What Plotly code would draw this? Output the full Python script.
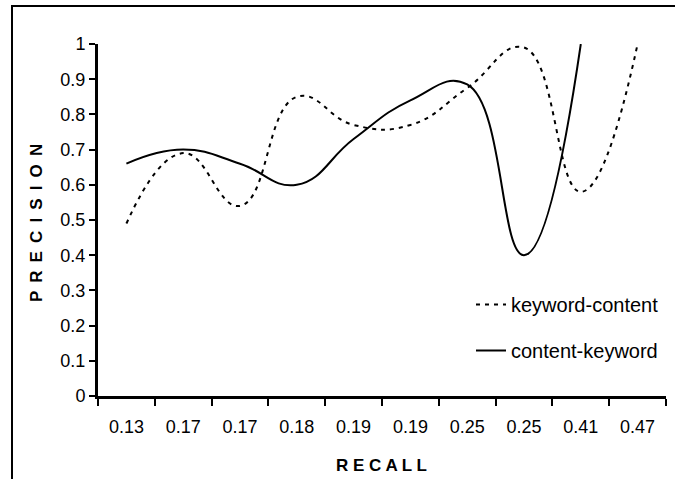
import plotly.graph_objects as go

recall_labels = ["0.13", "0.17", "0.17", "0.18", "0.19", "0.19", "0.25", "0.25", "0.41", "0.47"]
keyword_content = [0.49, 0.69, 0.54, 0.85, 0.77, 0.77, 0.875, 0.99, 0.58, 1.0]
content_keyword = [0.66, 0.70, 0.66, 0.60, 0.73, 0.84, 0.885, 0.40, 1.0]
y_ticks = [0, 0.1, 0.2, 0.3, 0.4, 0.5, 0.6, 0.7, 0.8, 0.9, 1]
y_tick_labels = ["0", "0.1", "0.2", "0.3", "0.4", "0.5", "0.6", "0.7", "0.8", "0.9", "1"]

x_pos = list(range(len(recall_labels)))
boundaries = [i - 0.5 for i in range(len(recall_labels) + 1)]

W, H = 675, 479
L, R, T, B = 98, 9, 44, 83
pw, ph = W - L - R, H - T - B


def px_x(p):
    return (p - L) / pw


def px_y(p):
    return (H - B - p) / ph


fig = go.Figure()
fig.add_trace(go.Scatter(
    x=x_pos[:len(keyword_content)], y=keyword_content, mode="lines",
    name="keyword-content", legendgroup="a",
    line=dict(color="black", width=2, dash="4px,5px", shape="spline", smoothing=1.3),
))
fig.add_trace(go.Scatter(
    x=x_pos[:len(content_keyword)], y=content_keyword, mode="lines",
    name="content-keyword", legendgroup="b",
    line=dict(color="black", width=2, shape="spline", smoothing=1.3),
))

font_family = "Liberation Sans, Arial, sans-serif"

fig.update_layout(
    width=W, height=H,
    margin=dict(l=L, r=R, t=T, b=B),
    paper_bgcolor="white", plot_bgcolor="white",
    font=dict(family=font_family, color="black", size=18),
    showlegend=True,
    legend=dict(
        x=px_x(471), y=px_y(285), xanchor="left", yanchor="top",
        font=dict(size=20, family=font_family, color="black"),
        bgcolor="rgba(0,0,0,0)", tracegroupgap=17, traceorder="grouped",
    ),
    xaxis=dict(
        range=[-0.5, len(recall_labels) - 0.5],
        tickmode="array", tickvals=x_pos, ticktext=recall_labels,
        ticks="", showgrid=False, zeroline=False,
        showline=True, linecolor="black", linewidth=3,
        tickfont=dict(size=18, family=font_family, color="black"),
        ticklabelstandoff=12,
        minor=dict(tickmode="array", tickvals=boundaries, ticks="outside",
                   ticklen=7, tickwidth=2, tickcolor="black", showgrid=False),
        fixedrange=True,
    ),
    yaxis=dict(
        range=[0, 1],
        tickmode="array", tickvals=y_ticks, ticktext=y_tick_labels,
        ticks="outside", ticklen=6, tickwidth=2, tickcolor="black",
        showgrid=False, zeroline=False,
        showline=True, linecolor="black", linewidth=3,
        tickfont=dict(size=18, family=font_family, color="black"),
        ticklabelstandoff=0,
        fixedrange=True,
    ),
    annotations=[
        dict(text="<b>R E C A L L</b>", x=px_x(381), y=px_y(466), xref="paper", yref="paper",
             showarrow=False, xanchor="center", yanchor="middle",
             font=dict(size=17, family=font_family, color="black")),
        dict(text="<b>P \u2009R \u2009E \u2009C \u2009I \u2009S \u2009I \u2009O \u2009N</b>",
             x=px_x(36), y=px_y(223), xref="paper", yref="paper", textangle=-90,
             showarrow=False, xanchor="center", yanchor="middle",
             font=dict(size=17, family=font_family, color="black")),
    ],
    shapes=[
        dict(type="line", xref="paper", yref="paper",
             x0=px_x(12), x1=px_x(12), y0=px_y(479), y1=px_y(6),
             line=dict(color="black", width=2), layer="above"),
        dict(type="line", xref="paper", yref="paper",
             x0=px_x(11), x1=px_x(675), y0=px_y(6), y1=px_y(6),
             line=dict(color="black", width=2), layer="above"),
    ],
)

fig.write_html(
    "out.html",
    config={"displayModeBar": False},
    post_script=(
        "document.body.style.margin='0';"
        "document.body.style.overflow='hidden';"
        "document.documentElement.style.overflow='hidden';"
    ),
)
